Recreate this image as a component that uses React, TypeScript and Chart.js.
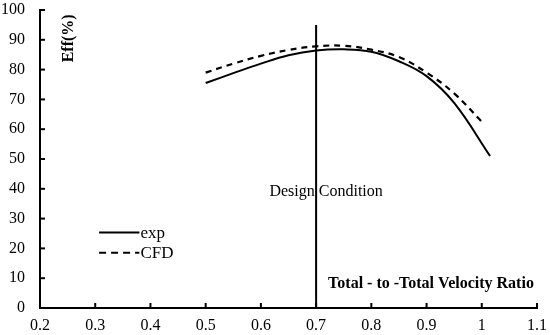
import React, { useEffect, useRef } from "react";
import { Chart, registerables } from "chart.js";

Chart.register(...registerables);

const expX = [0.5, 0.55, 0.6, 0.65, 0.7, 0.75, 0.8, 0.85, 0.9, 0.95, 1.015];
const expY = [75.5, 78.8, 82.0, 84.8, 86.4, 86.8, 86.0, 82.8, 77.8, 68.8, 51.0];
const cfdX = [0.5, 0.55, 0.6, 0.65, 0.7, 0.75, 0.8, 0.85, 0.9, 0.95, 1.0];
const cfdY = [79.0, 82.0, 84.6, 86.6, 87.8, 88.0, 86.7, 84.2, 79.0, 72.0, 62.5];
const designX = [0.7, 0.7];
const designY = [0, 95];
const xTicks = [0.2, 0.3, 0.4, 0.5, 0.6, 0.7, 0.8, 0.9, 1.0, 1.1];
const yTicks = [0, 10, 20, 30, 40, 50, 60, 70, 80, 90, 100];

const SERIF = "'Liberation Serif', 'Times New Roman', serif";

const decorPlugin = {
  id: "decor",
  afterDraw(chart: any) {
    const ctx = chart.ctx;
    const xs = chart.scales.x;
    const ys = chart.scales.y;
    const area = chart.chartArea;
    ctx.save();
    ctx.strokeStyle = "#000";
    ctx.lineWidth = 2;
    xTicks.forEach((v) => {
      const px = xs.getPixelForValue(v);
      ctx.beginPath();
      ctx.moveTo(px, area.bottom);
      ctx.lineTo(px, area.bottom - 5);
      ctx.stroke();
    });
    yTicks.forEach((v) => {
      const py = ys.getPixelForValue(v);
      ctx.beginPath();
      ctx.moveTo(area.left, py);
      ctx.lineTo(area.left + 5, py);
      ctx.stroke();
    });
    ctx.fillStyle = "#000";
    ctx.textBaseline = "alphabetic";
    ctx.font = `16px ${SERIF}`;
    ctx.textAlign = "center";
    ctx.fillText("Design Condition", xs.getPixelForValue(0.7) + 10, ys.getPixelForValue(40) + 7);
    ctx.font = `bold 16px ${SERIF}`;
    ctx.textAlign = "left";
    ctx.fillText("Total - to -Total Velocity Ratio", xs.getPixelForValue(0.7) + 12, ys.getPixelForValue(6.8));
    ctx.save();
    ctx.translate(area.left + 33, ys.getPixelForValue(90.5));
    ctx.rotate(-Math.PI / 2);
    ctx.font = `bold 16px ${SERIF}`;
    ctx.textAlign = "center";
    ctx.fillText("Eff(%)", 0, 0);
    ctx.restore();
    const lx0 = xs.getPixelForValue(0.307);
    const lx1 = xs.getPixelForValue(0.38);
    const ly1 = ys.getPixelForValue(25.3);
    const ly2 = ys.getPixelForValue(18.5);
    ctx.lineWidth = 2;
    ctx.beginPath();
    ctx.moveTo(lx0, ly1);
    ctx.lineTo(lx1, ly1);
    ctx.stroke();
    ctx.setLineDash([7, 5]);
    ctx.beginPath();
    ctx.moveTo(lx0, ly2);
    ctx.lineTo(lx1, ly2);
    ctx.stroke();
    ctx.setLineDash([]);
    ctx.font = `17px ${SERIF}`;
    ctx.textAlign = "left";
    ctx.textBaseline = "middle";
    ctx.fillText("exp", lx1 + 1, ly1 + 1);
    ctx.fillText("CFD", lx1 + 1, ly2 + 1);
    ctx.restore();
  },
};

export default function App() {
  const ref = useRef<HTMLCanvasElement>(null);
  useEffect(() => {
    if (!ref.current) return;
    const chart = new Chart(ref.current, {
      type: "line",
      data: {
        datasets: [
          {
            label: "exp",
            data: expX.map((x, i) => ({ x, y: expY[i] })),
            borderColor: "#000",
            borderWidth: 2,
            pointRadius: 0,
            tension: 0.4,
            fill: false,
          },
          {
            label: "CFD",
            data: cfdX.map((x, i) => ({ x, y: cfdY[i] })),
            borderColor: "#000",
            borderWidth: 2.2,
            borderDash: [6, 5],
            pointRadius: 0,
            tension: 0.4,
            fill: false,
          },
          {
            label: "Design",
            data: designX.map((x, i) => ({ x, y: designY[i] })),
            borderColor: "#000",
            borderWidth: 2,
            pointRadius: 0,
            tension: 0,
            fill: false,
          },
        ],
      },
      options: {
        animation: false,
        responsive: false,
        layout: { padding: { left: 0, right: 13, top: 10, bottom: 0 } },
        plugins: { legend: { display: false }, tooltip: { enabled: false } },
        scales: {
          x: {
            type: "linear",
            min: 0.2,
            max: 1.1,
            afterBuildTicks: (s: any) => {
              s.ticks = xTicks.map((v) => ({ value: v }));
            },
            afterFit: (s: any) => {
              s.height = 27;
              s.paddingLeft = 0;
              s.paddingRight = 0;
            },
            grid: { display: false, drawTicks: false },
            border: { display: true, color: "#000", width: 2 },
            ticks: {
              color: "#000",
              padding: 8,
              font: { family: SERIF, size: 16 },
              callback: (v: any) => String(Number(Number(v).toFixed(1))),
            },
          },
          y: {
            type: "linear",
            min: 0,
            max: 100,
            afterBuildTicks: (s: any) => {
              s.ticks = yTicks.map((v) => ({ value: v }));
            },
            afterFit: (s: any) => {
              s.width = 40;
              s.paddingTop = 0;
              s.paddingBottom = 0;
            },
            grid: { display: false, drawTicks: false },
            border: { display: true, color: "#000", width: 2 },
            ticks: {
              color: "#000",
              padding: 15,
              font: { family: SERIF, size: 16 },
            },
          },
        },
      },
      plugins: [decorPlugin],
    } as any);
    return () => chart.destroy();
  }, []);
  return (
    <div style={{ position: "absolute", left: 0, top: 0, width: 550, height: 335, background: "#fff" }}>
      <canvas ref={ref} width={550} height={335} style={{ width: 550, height: 335 }} />
    </div>
  );
}
